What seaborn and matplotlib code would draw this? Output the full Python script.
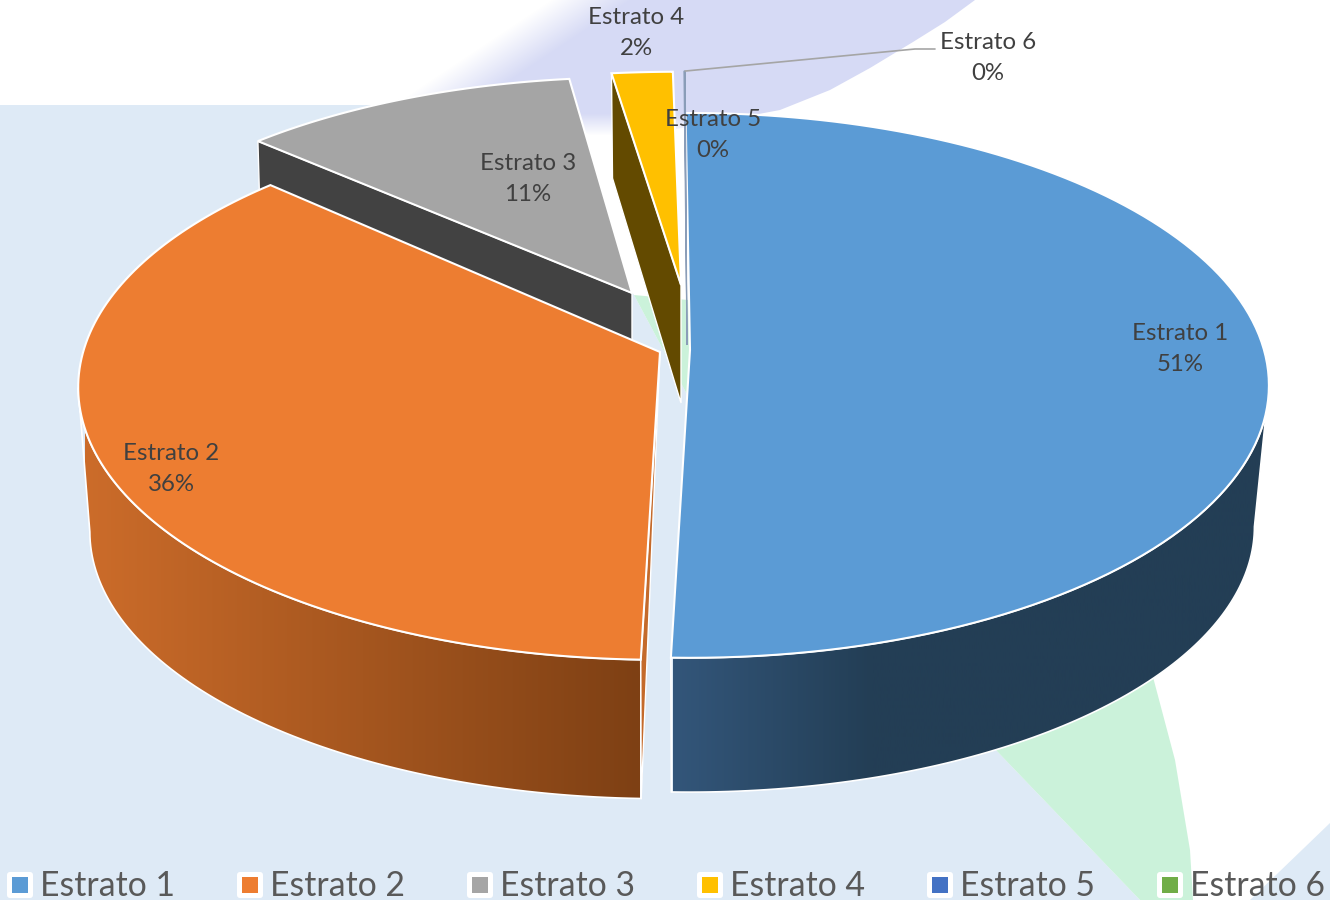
import numpy as np
import matplotlib
matplotlib.use("Agg")
import matplotlib.pyplot as plt
from matplotlib.patches import Polygon, Rectangle, FancyBboxPatch
import seaborn as sns

# chart data
estratos = ["Estrato 1", "Estrato 2", "Estrato 3", "Estrato 4", "Estrato 5", "Estrato 6"]
porcentajes = [50.6, 36.4, 11.1, 1.8, 0.05, 0.05]
colores = ["#5B9BD5", "#ED7D31", "#A5A5A5", "#FFC000", "#4472C4", "#70AD47"]

# layout in image pixels
centros = [(690, 350), (660, 352), (632, 293), (681, 285), (687, 345), (687, 345)]
escala_x = [1.0, 1.005, 0.965, 1.07, 0.4, 0.4]
escala_y = [1.0, 1.0, 0.91, 0.90, 1.156, 1.156]
pos_etiquetas = [(1180, 349), (171, 469), (528, 179), (636, 33), (713, 135), (988, 58)]
legend_x = [20, 250, 480, 710, 940, 1170]
ROT = -0.5
R, S, K = 574.0, 267.8, 0.13

sns.set_theme(style="white")
plt.rcParams["font.family"] = ["Lato", "DejaVu Sans"]
paleta = sns.color_palette(colores)


def rim(theta, c, sx=1.0, sy=1.0, depth=0.0, f=1.0):
    # point of the tilted disc seen in perspective, theta clockwise from the back
    t = np.radians(theta)
    u, v = np.sin(t), np.cos(t)
    w = 1 + K * v
    return np.column_stack([c[0] + f * sx * R * u / w, c[1] + depth - f * sy * S * v / w])


def poly(ax, pts, color, z, ec="none", lw=0.0):
    p = Polygon(pts, closed=True, facecolor=color, edgecolor=ec, linewidth=lw, zorder=z, joinstyle="miter")
    ax.add_patch(p)
    return p


def gradient_wall(ax, pts, stops, x0, x1, z):
    p = poly(ax, pts, "none", z + 0.1, ec="white", lw=1.2)
    cmap = sns.blend_palette(stops, as_cmap=True)
    grad = np.linspace(0, 1, 256).reshape(1, -1)
    im = ax.imshow(grad, cmap=cmap, extent=[x0, x1, 900, 0], aspect="auto", zorder=z)
    im.set_clip_path(p)


fig = plt.figure(figsize=(13.3, 9), dpi=100, facecolor="white")
ax = fig.add_axes([0, 0, 1, 1])
ax.set_axis_off()

# background picture
fondo = "#DEEAF6"
lavanda = poly(ax, [(547, 0), (975, 0), (945, 22), (913, 42), (870, 68), (830, 90), (780, 110), (700, 125),
                    (640, 135), (590, 135), (560, 118), (480, 105), (395, 105)], "none", 1)
yy, xx = np.mgrid[0:140, 380:980]
alpha = np.clip((xx + 1.5 * yy - 550) / 80, 0, 1) * np.clip((135 - yy) / 22, 0, 1)
rgba = np.zeros(xx.shape + (4,))
rgba[..., :3] = matplotlib.colors.to_rgb("#D6DAF5")
rgba[..., 3] = alpha
im = ax.imshow(rgba, extent=[380, 980, 140, 0], aspect="auto", zorder=1)
im.set_clip_path(lavanda)
poly(ax, [(0, 105), (500, 105), (634, 295), (690, 400), (993, 747), (1140, 900), (0, 900)], fondo, 2)
poly(ax, [(634, 295), (688, 300), (1153, 677), (1175, 760), (1190, 850), (1193, 900), (1140, 900),
          (993, 747), (690, 400)], "#CBF2DA", 2)
poly(ax, [(1330, 823), (1330, 900), (1250, 900)], fondo, 2)

# slice angles from the values
total = sum(porcentajes)
fin = np.cumsum(porcentajes) / total * 360 + ROT
ini = np.r_[ROT, fin[:-1]]

# side faces, back to front
c = centros[2]
a, b = rim(ini[2], c, escala_x[2], escala_y[2])[0], np.array(c, dtype=float)
poly(ax, [a, a + (3, 105), b + (0, 118), b], "#424242", 3, ec="white", lw=1.0)

c = centros[3]
a, b = rim(ini[3], c, escala_x[3], escala_y[3])[0], np.array(c, dtype=float)
poly(ax, [a, a + (1, 105), b + (0, 118), b], "#634A00", 3, ec="white", lw=1.0)

# orange wall and its cut face
c = centros[1]
arc = np.linspace(ini[1], 262.5, 80)
up, low = rim(arc, c, escala_x[1]), rim(arc, c, escala_x[1], depth=145, f=0.98)
gradient_wall(ax, np.vstack([up, low[::-1]]), ["#7E4014", "#A5561F", "#CC6C2A"], 640, 85, 4)
poly(ax, [c, up[0], low[0]], "#C46A2B", 4.5, ec="white", lw=1.0)

# blue wall
c = centros[0]
arc = np.linspace(97.5, fin[0], 100)
up, low = rim(arc, c), rim(arc, c, depth=142, f=0.975)
gradient_wall(ax, np.vstack([up, low[::-1]]), ["#33567A", "#233E55", "#233E55", "#233E55"], 673, 1270, 4)

# top faces
for i in [2, 3, 1, 0]:
    arc = np.linspace(ini[i], fin[i], 120)
    pts = np.vstack([[centros[i]], rim(arc, centros[i], escala_x[i], escala_y[i])])
    poly(ax, pts, paleta[i], 5 + i * 0.01, ec="white", lw=1.5)
for i in [4, 5]:
    arc = np.linspace(ini[i], fin[i], 5)
    pts = np.vstack([[centros[i]], rim(arc, centros[i], escala_x[i], escala_y[i])])
    poly(ax, pts, "#8A9DB8", 5.2, ec="#8A9DB8", lw=0.8)

# leader line of the last label
inicio = rim(fin[5], centros[5], escala_x[5], escala_y[5])[0]
ax.plot([inicio[0], 915, 935], [inicio[1], 49, 49], color="#A5A5A5", lw=1.2, zorder=6)

# data labels
for nombre, v, (x, y) in zip(estratos, porcentajes, pos_etiquetas):
    ax.text(x, y, f"{nombre}\n{v:.0f}%", ha="center", va="center", fontsize=17.3, color="#404040",
            linespacing=1.62, zorder=7)

# legend
for nombre, col, x in zip(estratos, paleta, legend_x):
    ax.add_patch(FancyBboxPatch((x - 13, 872), 26, 26, boxstyle="round,pad=0,rounding_size=3",
                                facecolor="white", edgecolor="none", zorder=7))
    ax.add_patch(Rectangle((x - 8, 877), 16, 16, facecolor=col, edgecolor="none", zorder=8))
    ax.text(x + 20, 886, nombre, ha="left", va="center", fontsize=24.3, color="#595959", zorder=8)

ax.set_xlim(0, 1330)
ax.set_ylim(900, 0)
fig.savefig("out.png", dpi=100)
